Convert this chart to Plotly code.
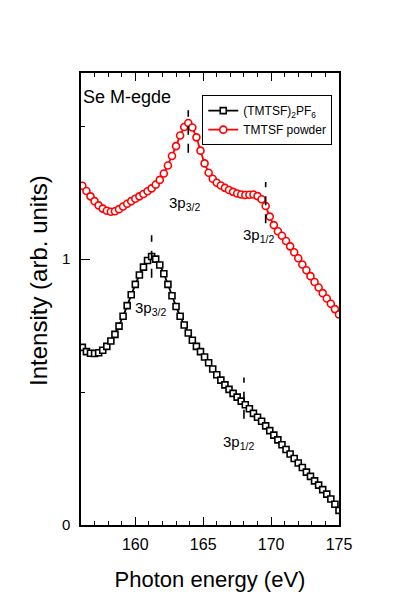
import plotly.graph_objects as go

# Photon energy grid (eV)
energy = [156.1, 156.4, 156.7, 157.0, 157.3, 157.6, 157.9, 158.2, 158.5, 158.8,
          159.1, 159.4, 159.7, 160.0, 160.3, 160.6, 160.9, 161.2, 161.5, 161.8,
          162.1, 162.4, 162.7, 163.0, 163.3, 163.6, 163.9, 164.2, 164.5, 164.8,
          165.1, 165.4, 165.7, 166.0, 166.3, 166.6, 166.9, 167.2, 167.5, 167.8,
          168.1, 168.4, 168.7, 169.0, 169.3, 169.6, 169.9, 170.2, 170.5, 170.8,
          171.1, 171.4, 171.7, 172.0, 172.3, 172.6, 172.9, 173.2, 173.5, 173.8,
          174.1, 174.4, 174.7, 175.0]

# (TMTSF)2PF6 intensity
pf6 = [0.668, 0.652, 0.646, 0.645, 0.648, 0.657, 0.672, 0.692, 0.717, 0.748,
       0.785, 0.825, 0.866, 0.905, 0.940, 0.970, 0.995, 1.010, 1.000, 0.978,
       0.945, 0.905, 0.862, 0.822, 0.785, 0.752, 0.722, 0.695, 0.672, 0.652,
       0.632, 0.610, 0.587, 0.565, 0.545, 0.527, 0.510, 0.495, 0.481, 0.466,
       0.452, 0.437, 0.420, 0.405, 0.390, 0.373, 0.355, 0.338, 0.320, 0.302,
       0.284, 0.267, 0.250, 0.233, 0.216, 0.199, 0.183, 0.166, 0.150, 0.133,
       0.116, 0.098, 0.078, 0.055]

# TMTSF powder intensity (offset)
powder = [1.276, 1.256, 1.236, 1.218, 1.202, 1.190, 1.182, 1.178, 1.180, 1.188,
          1.198, 1.208, 1.218, 1.227, 1.236, 1.245, 1.255, 1.266, 1.280, 1.298,
          1.322, 1.352, 1.388, 1.425, 1.465, 1.497, 1.512, 1.495, 1.458, 1.408,
          1.360, 1.325, 1.302, 1.287, 1.277, 1.268, 1.260, 1.253, 1.247, 1.243,
          1.241, 1.242, 1.243, 1.237, 1.225, 1.200, 1.160, 1.128, 1.105, 1.088,
          1.068, 1.048, 1.026, 1.003, 0.980, 0.958, 0.936, 0.914, 0.893, 0.872,
          0.852, 0.832, 0.812, 0.792]

# Peak markers: (energy, y_low, y_high) and labels (energy, y, text)
peak_marks = [(163.9, 1.40, 1.56), (169.6, 1.135, 1.29),
              (161.2, 0.93, 1.09), (168.0, 0.40, 0.555)]
peak_labels = [(163.6, 1.21, "3p<sub>3/2</sub>"), (169.1, 1.09, "3p<sub>1/2</sub>"),
               (161.1, 0.815, "3p<sub>3/2</sub>"), (167.6, 0.31, "3p<sub>1/2</sub>")]

FONT = "Arial, Liberation Sans, sans-serif"

fig = go.Figure()
fig.add_trace(go.Scatter(
    x=energy, y=pf6, mode="lines+markers", name="(TMTSF)<sub>2</sub>PF<sub>6</sub>",
    line=dict(color="black", width=1.8),
    marker=dict(symbol="square", size=6, color="white", line=dict(color="black", width=1.6)),
))
fig.add_trace(go.Scatter(
    x=energy, y=powder, mode="lines+markers", name="TMTSF powder",
    line=dict(color="#ff0000", width=1.8),
    marker=dict(symbol="circle", size=7, color="white", line=dict(color="#ff0000", width=1.6)),
))

for x, y0, y1 in peak_marks:
    fig.add_shape(type="line", x0=x, x1=x, y0=y0, y1=y1, xref="x", yref="y",
                  line=dict(color="black", width=1.6, dash="dash"), layer="above")

for x, y, t in peak_labels:
    fig.add_annotation(x=x, y=y, text=t, showarrow=False, xref="x", yref="y",
                       font=dict(family=FONT, size=15, color="black"))

fig.add_annotation(x=0.0, y=0.946, xref="paper", yref="paper", text="Se M-egde",
                   showarrow=False, xanchor="left", yanchor="middle",
                   font=dict(family=FONT, size=18, color="black"))

# y-axis title placed slightly above the plot centre
fig.add_annotation(x=-0.167, y=0.542, xref="paper", yref="paper",
                   text="Intensity (arb. units)", textangle=-90, showarrow=False,
                   xanchor="center", yanchor="middle",
                   font=dict(family=FONT, size=24, color="black"))

fig.update_layout(
    width=396, height=606,
    margin=dict(l=81, r=57, t=73, b=81),
    paper_bgcolor="white", plot_bgcolor="white",
    font=dict(family=FONT, color="black"),
    showlegend=True,
    legend=dict(x=0.47, y=0.951, xanchor="left", yanchor="top",
                bordercolor="black", borderwidth=1, bgcolor="white",
                font=dict(family=FONT, size=12), itemwidth=30,
                tracegroupgap=0),
)

fig.update_xaxes(
    range=[156, 175], showgrid=False, zeroline=False,
    showline=True, linecolor="black", linewidth=1.5, mirror="ticks",
    ticks="inside", ticklen=8, tickwidth=1.2, tickcolor="black",
    tickvals=[160, 165, 170, 175], tickfont=dict(size=16), ticklabelstandoff=4,
    minor=dict(dtick=1, ticks="inside", ticklen=4, tickwidth=1, tickcolor="black", showgrid=False),
    title=dict(text="Photon energy (eV)", font=dict(size=22), standoff=20),
)
fig.update_yaxes(
    range=[0, 1.7], showgrid=False, zeroline=False,
    showline=True, linecolor="black", linewidth=1.5, mirror=True,
    ticks="inside", ticklen=9, tickwidth=1.2, tickcolor="black",
    tickvals=[0, 1], tickfont=dict(size=15), ticklabelstandoff=6,
    minor=dict(dtick=0.5, ticks="inside", ticklen=4, tickwidth=1, tickcolor="black", showgrid=False),
)

fig.write_html("out.html")
